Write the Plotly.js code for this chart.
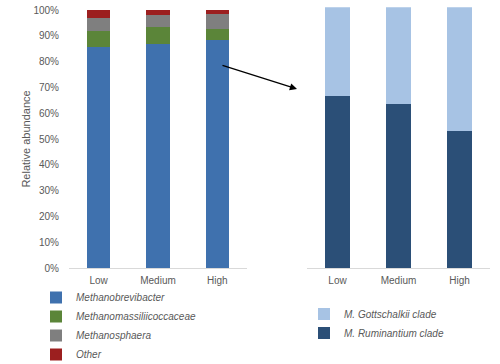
<!DOCTYPE html>
<html>
<head>
<meta charset="utf-8">
<script src="https://cdn.plot.ly/plotly-3.0.1.min.js"></script>
<style>html,body{margin:0;padding:0;background:#fff;}#chart{width:500px;height:364px;}</style>
</head>
<body>
<div id="chart"></div>
<script>
// ---- data ----
const categories = ["Low", "Medium", "High"];
const methanobrevibacter = [85.8, 86.9, 88.2];
const methanomassiliicoccaceae = [6.1, 6.4, 4.3];
const methanosphaera = [5.1, 4.8, 5.8];
const other = [3.0, 1.9, 1.7];
const ruminantiumClade = [66.0, 62.8, 52.4];
const gottschalkiiClade = [34.0, 37.2, 47.6];
const yTicks = [0, 10, 20, 30, 40, 50, 60, 70, 80, 90, 100];
const yTickLabels = yTicks.map(v => v + "%");

// ---- styles ----
const font = "Liberation Sans, Arial, sans-serif";
const grey = "#595959";
const leftW = 0.39, rightW = 0.42;

function bar(name, y, color, xa, ya, legend, w) {
  return {type: "bar", name: name, x: categories, y: y, xaxis: xa, yaxis: ya,
    legend: legend, width: w, marker: {color: color, line: {width: 0}},
    hoverinfo: "name+y"};
}

const traces = [
  bar("Methanobrevibacter", methanobrevibacter, "#3f71ae", "x", "y", "legend", leftW),
  bar("Methanomassiliicoccaceae", methanomassiliicoccaceae, "#5b8539", "x", "y", "legend", leftW),
  bar("Methanosphaera", methanosphaera, "#7f7f7f", "x", "y", "legend", leftW),
  bar("Other", other, "#9c1f1f", "x", "y", "legend", leftW),
  bar("M. Ruminantium clade", ruminantiumClade, "#2b4f77", "x2", "y2", "legend2", rightW),
  bar("M. Gottschalkii clade", gottschalkiiClade, "#a7c3e4", "x2", "y2", "legend2", rightW)
];

const H = 364, W = 500;
const py = v => 1 - v / H, px = v => v / W;

const layout = {
  width: W, height: H,
  margin: {l: 0, r: 0, t: 0, b: 0, autoexpand: false},
  paper_bgcolor: "#fff", plot_bgcolor: "#fff",
  barmode: "stack",
  font: {family: font, size: 10, color: grey},
  xaxis: {domain: [px(69), px(247)], anchor: "y", showgrid: false, zeroline: false,
    showline: true, linecolor: "#d9d9d9", linewidth: 1, ticks: "", ticklabelstandoff: 3,
    tickfont: {size: 10, color: grey}},
  yaxis: {domain: [py(268), py(10)], anchor: "x", range: [0, 100], tickmode: "array",
    tickvals: yTicks, ticktext: yTickLabels, showgrid: false, zeroline: false,
    showline: false, ticks: "", ticklabelstandoff: 9, tickfont: {size: 10, color: grey},
    title: {text: "Relative abundance", font: {size: 11, color: grey}, standoff: 0}},
  xaxis2: {domain: [px(307), px(490)], anchor: "y2", showgrid: false, zeroline: false,
    showline: true, linecolor: "#d9d9d9", linewidth: 1, ticks: "", ticklabelstandoff: 3,
    tickfont: {size: 10, color: grey}},
  yaxis2: {domain: [py(268), py(7.3)], anchor: "x2", range: [0, 100], visible: false,
    showgrid: false, zeroline: false},
  legend: {x: px(36), y: py(283), xanchor: "left", yanchor: "top", traceorder: "normal",
    bgcolor: "rgba(0,0,0,0)", font: {size: 10, color: grey, style: "italic"},
    itemclick: false, itemdoubleclick: false},
  legend2: {x: px(304), y: py(299.5), xanchor: "left", yanchor: "top", traceorder: "reversed",
    bgcolor: "rgba(0,0,0,0)", font: {size: 10, color: grey, style: "italic"},
    itemclick: false, itemdoubleclick: false},
  showlegend: true,
  annotations: [{xref: "paper", yref: "paper", x: px(297), y: py(89),
    axref: "pixel", ayref: "pixel", ax: -76, ay: -24, text: "", showarrow: true,
    arrowhead: 2, arrowsize: 1.1, arrowwidth: 1.3, arrowcolor: "#000"}]
};

Plotly.newPlot("chart", traces, layout, {displayModeBar: false, staticPlot: true});
</script>
</body>
</html>
